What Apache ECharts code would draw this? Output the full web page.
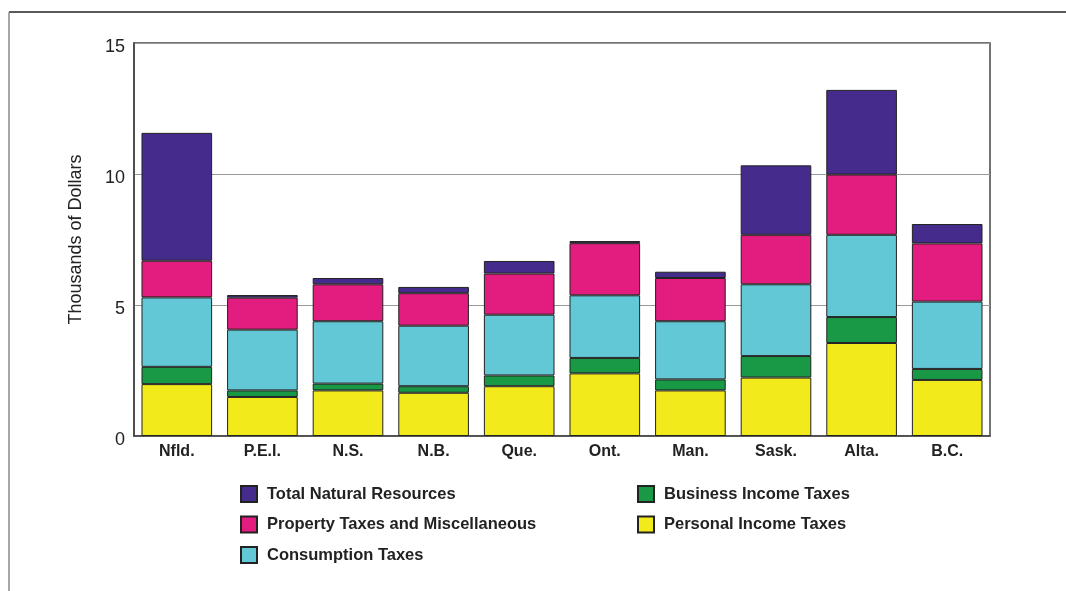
<!DOCTYPE html>
<html>
<head>
<meta charset="utf-8">
<script src="https://cdn.jsdelivr.net/npm/echarts@6/dist/echarts.min.js"></script>
<style>
  html, body { margin: 0; padding: 0; background: #fff; }
  #echart-box { width: 1066px; height: 591px; }
</style>
</head>
<body>
<div id="echart-box"></div>
<script>
// provinces along the x axis
const provinces = ["Nfld.", "P.E.I.", "N.S.", "N.B.", "Que.", "Ont.", "Man.", "Sask.", "Alta.", "B.C."];

// thousands of dollars
const personalIncome = [1.98, 1.49, 1.74, 1.65, 1.90, 2.39, 1.74, 2.23, 3.55, 2.14];
const businessIncome = [0.66, 0.25, 0.26, 0.25, 0.41, 0.59, 0.42, 0.82, 0.99, 0.42];
const consumption    = [2.65, 2.32, 2.38, 2.31, 2.32, 2.39, 2.22, 2.74, 3.14, 2.57];
const propertyMisc   = [1.40, 1.22, 1.41, 1.24, 1.57, 1.99, 1.65, 1.89, 2.30, 2.22];
const naturalRes     = [4.88, 0.10, 0.24, 0.24, 0.48, 0.08, 0.24, 2.65, 3.23, 0.74];

const yTicks = [0, 5, 10, 15];

function init(){
    const element = document.getElementById("echart-box");
    const instance = echarts.init(element);

    const legendFont = {
        fontFamily: "'Liberation Sans', Arial, sans-serif",
        fontWeight: "bold",
        fontSize: 16.5,
        lineHeight: 16,
        color: "#222",
        padding: [0, 0, 0, 5]
    };

    function bar(name, data, color){
        return {
            name: name,
            type: "bar",
            stack: "total",
            data: data,
            barCategoryGap: "17.5%",
            itemStyle: { color: color, borderColor: "#222", borderWidth: 1 },
            emphasis: { disabled: true }
        };
    }

    let option = {
        animation: false,
        backgroundColor: "#fff",
        textStyle: { fontFamily: "'Liberation Sans', Arial, sans-serif" },
        grid: {
            left: 134, right: 76, top: 43, bottom: 155,
            show: true, borderColor: "#444", borderWidth: 1.5
        },
        xAxis: {
            type: "category",
            data: provinces,
            axisLine: { lineStyle: { color: "#444", width: 1.5 } },
            axisTick: { show: false },
            axisLabel: {
                fontSize: 16, fontWeight: "bold", color: "#222", margin: 8
            }
        },
        yAxis: {
            type: "value",
            min: yTicks[0],
            max: yTicks[yTicks.length - 1],
            interval: 5,
            name: "Thousands of Dollars",
            nameLocation: "middle",
            nameGap: 49,
            nameTextStyle: { fontSize: 18, color: "#222" },
            axisLine: { show: true, lineStyle: { color: "#444", width: 1.5 } },
            axisTick: { show: false },
            axisLabel: {
                margin: 9,
                formatter: "{t|{value}}",
                rich: { t: { fontSize: 18, color: "#222", padding: [8, 0, 0, 0] } }
            },
            splitLine: { lineStyle: { color: "#9a9a9a", width: 1.2 } }
        },
        legend: [
            {
                orient: "vertical",
                left: 235, top: 480,
                itemWidth: 16, itemHeight: 16, itemGap: 12.5,
                icon: "rect",
                selectedMode: false,
                textStyle: legendFont,
                data: ["Total Natural Resources", "Property Taxes and Miscellaneous", "Consumption Taxes"]
            },
            {
                orient: "vertical",
                left: 632, top: 480,
                itemWidth: 16, itemHeight: 16, itemGap: 12.5,
                icon: "rect",
                selectedMode: false,
                textStyle: legendFont,
                data: ["Business Income Taxes", "Personal Income Taxes"]
            }
        ],
        // outer frame: top and left edges only
        graphic: [
            { type: "line", shape: { x1: 9, y1: 12, x2: 1066, y2: 12 }, style: { stroke: "#222", lineWidth: 1.5 } },
            { type: "line", shape: { x1: 9, y1: 12, x2: 9, y2: 591 }, style: { stroke: "#888", lineWidth: 1.5 } }
        ],
        series: [
            bar("Personal Income Taxes", personalIncome, "#f2ea1a"),
            bar("Business Income Taxes", businessIncome, "#199945"),
            bar("Consumption Taxes", consumption, "#62c8d5"),
            bar("Property Taxes and Miscellaneous", propertyMisc, "#e31c7f"),
            bar("Total Natural Resources", naturalRes, "#452c8c")
        ]
    };

    instance && instance.setOption(option);
}
init();
</script>
</body>
</html>
